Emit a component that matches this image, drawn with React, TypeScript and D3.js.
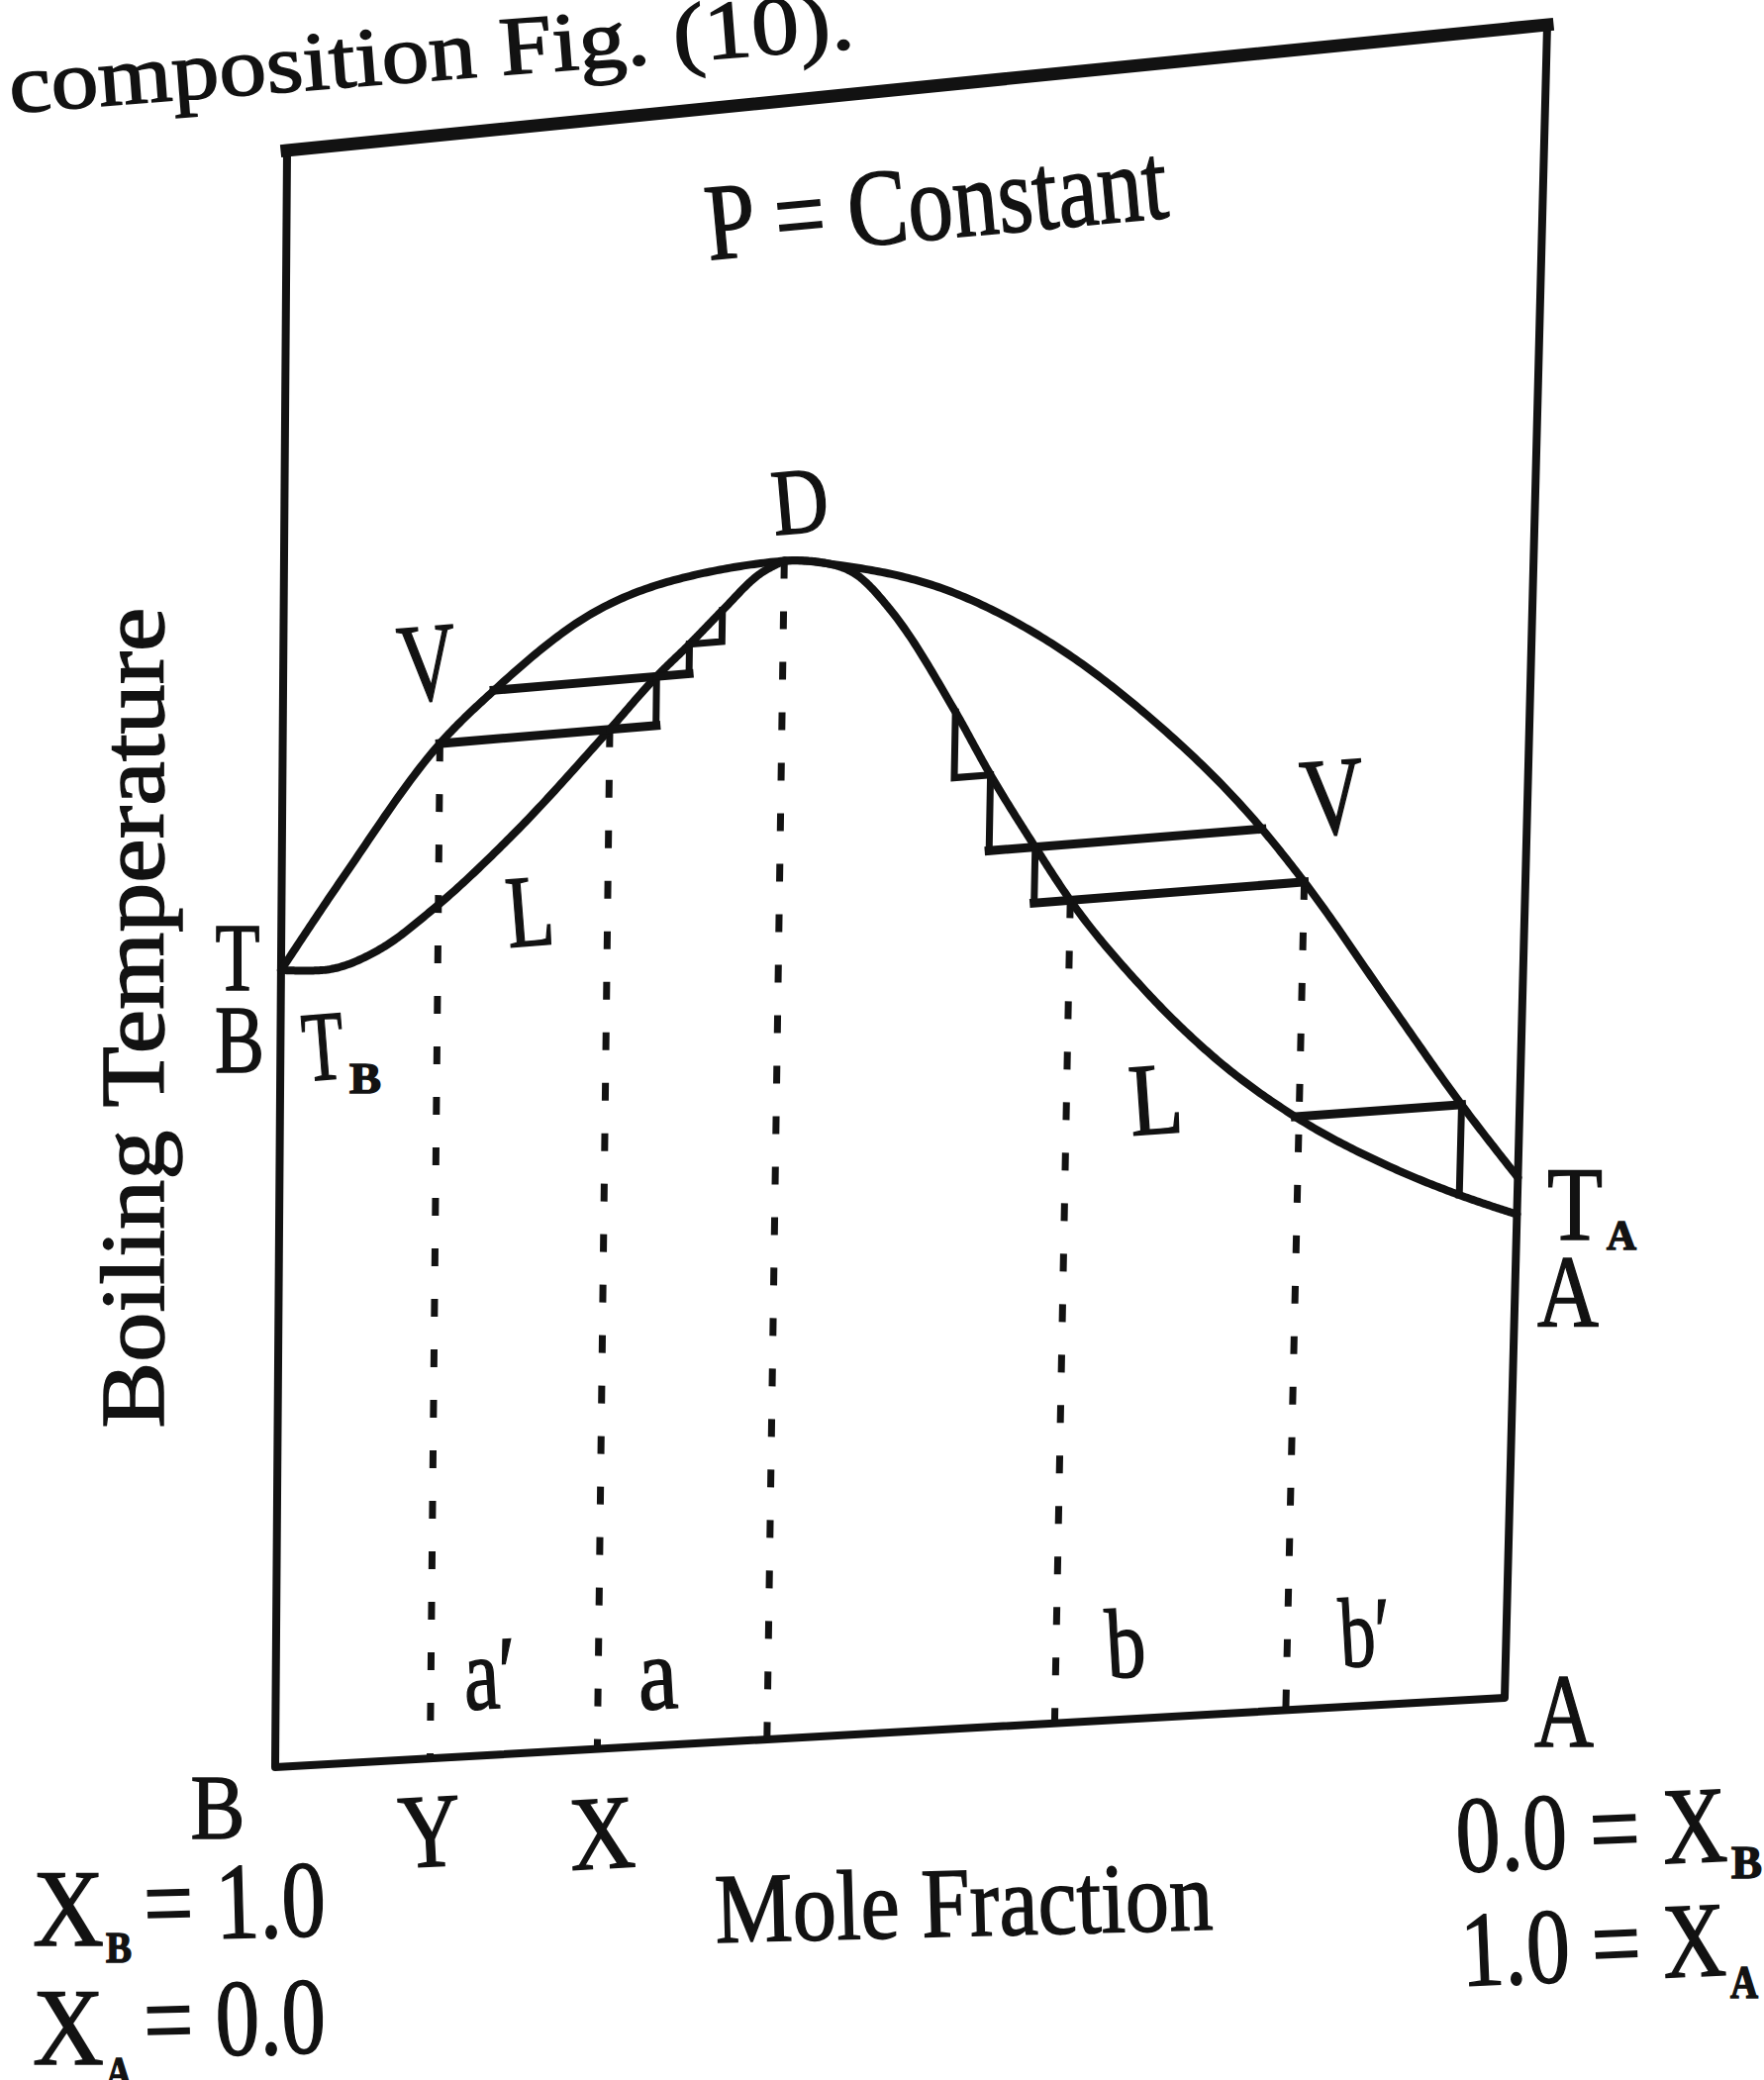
import React from "react";
import * as d3 from "d3";

// Boiling-point diagram of a maximum-boiling (negative deviation) binary mixture.
// x = mole fraction of A (0 = pure B, 1 = pure A); t = relative boiling temperature
// (0 = bottom of the frame, 1 = top of the frame).
type Pt = [number, number];

const vapourCurve: Pt[] = [
  [0, 0.493], [0.049, 0.547], [0.126, 0.625], [0.169, 0.655], [0.244, 0.696],
  [0.319, 0.714], [0.4, 0.719], [0.446, 0.713], [0.526, 0.694], [0.607, 0.659],
  [0.689, 0.609], [0.787, 0.532], [0.822, 0.498], [0.894, 0.42], [0.953, 0.357],
  [1, 0.311],
];

// liquid branch on the B-rich side, T_B up to the azeotrope D
const liquidCurveB: Pt[] = [
  [0, 0.493], [0.034, 0.491], [0.079, 0.501], [0.123, 0.524], [0.185, 0.565],
  [0.262, 0.625], [0.299, 0.655], [0.325, 0.673], [0.351, 0.692], [0.38, 0.712],
  [0.4, 0.719],
];

// liquid branch on the A-rich side, D down to T_A
const liquidCurveA: Pt[] = [
  [0.4, 0.719], [0.43, 0.716], [0.459, 0.706], [0.486, 0.683], [0.539, 0.618],
  [0.568, 0.578], [0.605, 0.532], [0.634, 0.498], [0.692, 0.443], [0.753, 0.396],
  [0.819, 0.357], [0.896, 0.323], [0.953, 0.303], [1, 0.289],
];

const azeotrope = { x: 0.4, t: 0.719 };

// horizontal tie lines (vapour composition, liquid composition, temperature)
const tieLinesB = [
  { t: 0.625, vapour: 0.126, liquid: 0.262 },
  { t: 0.655, vapour: 0.169, liquid: 0.299 },
];
const tieLinesA = [
  { t: 0.532, vapour: 0.787, liquid: 0.605 },
  { t: 0.498, vapour: 0.822, liquid: 0.634 },
  { t: 0.357, vapour: 0.953, liquid: 0.819 },
];

// successive fractionation steps along the liquid curves
const stepsB = { x: [0.262, 0.299, 0.325, 0.351], t: [0.625, 0.655, 0.673, 0.692] };
const stepsA = { x: [0.539, 0.568, 0.605, 0.634], t: [0.618, 0.578, 0.532, 0.498] };
// last step near T_A: from the vapour point straight down to the liquid curve
const finalDrop = { x: 0.953, from: 0.357, to: 0.303 };

// dotted composition lines dropped to the axis
const dropLines = [
  { name: "Y", x: 0.126, t: 0.625 },
  { name: "X", x: 0.262, t: 0.625 },
  { name: "D", x: azeotrope.x, t: azeotrope.t },
  { name: "b", x: 0.634, t: 0.498 },
  { name: "b'", x: 0.822, t: 0.498 },
];

// frame corners on the page (the printed figure is slightly out of square)
const FRAME = {
  bl: [278, 1785],
  br: [1520, 1715],
  tr: [1563, 25],
  tl: [290, 152],
};

const xScale = d3.scaleLinear().domain([0, 1]).range([0, 1]);
const tScale = d3.scaleLinear().domain([0, 1]).range([0, 1]);

function warp(u: number, v: number): Pt {
  const { bl, br, tr, tl } = FRAME;
  const a = (1 - u) * (1 - v);
  const b = u * (1 - v);
  const c = u * v;
  const d = (1 - u) * v;
  return [
    a * bl[0] + b * br[0] + c * tr[0] + d * tl[0],
    a * bl[1] + b * br[1] + c * tr[1] + d * tl[1],
  ];
}

const place = (x: number, t: number): Pt => warp(xScale(x), tScale(t));

// d3 curve rendered in frame space, flattened and pushed through the frame warp
function warpedCurve(points: Pt[], curve: d3.CurveFactory = d3.curveMonotoneX): string {
  const out = d3.path();
  let px = 0;
  let py = 0;
  const run = (fn: (s: number) => Pt, n: number) => {
    for (let i = 1; i <= n; i++) {
      const [u, v] = fn(i / n);
      const [X, Y] = warp(u, v);
      out.lineTo(X, Y);
    }
  };
  const ctx = {
    moveTo(x: number, y: number) {
      const [X, Y] = warp(x, y);
      out.moveTo(X, Y);
      px = x;
      py = y;
    },
    lineTo(x: number, y: number) {
      const x0 = px, y0 = py;
      run((s) => [x0 + (x - x0) * s, y0 + (y - y0) * s], 6);
      px = x;
      py = y;
    },
    bezierCurveTo(x1: number, y1: number, x2: number, y2: number, x: number, y: number) {
      const x0 = px, y0 = py;
      run((s) => {
        const m = 1 - s;
        return [
          m * m * m * x0 + 3 * m * m * s * x1 + 3 * m * s * s * x2 + s * s * s * x,
          m * m * m * y0 + 3 * m * m * s * y1 + 3 * m * s * s * y2 + s * s * s * y,
        ];
      }, 30);
      px = x;
      py = y;
    },
    closePath() {
      out.closePath();
    },
  };
  d3.line<Pt>()
    .x((d) => xScale(d[0]))
    .y((d) => tScale(d[1]))
    .curve(curve)
    .context(ctx as unknown as d3.Path)(points);
  return out.toString();
}

// polyline of straight frame-space segments (straight lines stay straight under the warp)
const polyline = (pts: Pt[]): string =>
  pts.map((p, i) => {
    const [X, Y] = place(p[0], p[1]);
    return `${i ? "L" : "M"}${X.toFixed(1)},${Y.toFixed(1)}`;
  }).join("");

const INK = "#121212";
const SERIF = "'Liberation Serif', 'Times New Roman', serif";

type LabelProps = {
  x: number;
  y: number;
  size: number;
  len: number;
  rot?: number;
  anchor?: "start" | "middle" | "end";
  bold?: boolean;
  children: React.ReactNode;
};

function Label({ x, y, size, len, rot = 0, anchor = "middle", bold = false, children }: LabelProps) {
  return (
    <text
      x={x}
      y={y}
      fontSize={size}
      textLength={len}
      lengthAdjust="spacingAndGlyphs"
      textAnchor={anchor}
      fontFamily={SERIF}
      fontWeight={bold ? 700 : 400}
      fill={INK}
      stroke={INK}
      strokeWidth={1.5}
      transform={rot ? `rotate(${rot} ${x} ${y})` : undefined}
    >
      {children}
    </text>
  );
}

export default function App() {
  const { bl, br, tr, tl } = FRAME;

  // staircase on the B-rich liquid branch: right, then up
  const stairB: Pt[][] = [];
  for (let i = 0; i < stepsB.x.length - 1; i++) {
    stairB.push([
      [stepsB.x[i], stepsB.t[i]],
      [stepsB.x[i + 1], stepsB.t[i]],
      [stepsB.x[i + 1], stepsB.t[i + 1]],
    ]);
  }
  // staircase on the A-rich liquid branch: down, then right
  const stairA: Pt[][] = [];
  for (let i = 0; i < stepsA.x.length - 1; i++) {
    stairA.push([
      [stepsA.x[i], stepsA.t[i]],
      [stepsA.x[i], stepsA.t[i + 1]],
      [stepsA.x[i + 1], stepsA.t[i + 1]],
    ]);
  }

  // tie lines run from the vapour curve to the corner of the next step
  const tiesB = tieLinesB.map((tie) => {
    const k = stepsB.t.indexOf(tie.t);
    const end = k >= 0 && k + 1 < stepsB.x.length ? stepsB.x[k + 1] : tie.liquid;
    return polyline([[tie.vapour, tie.t], [end, tie.t]]);
  });
  const tiesA = tieLinesA.map((tie) => {
    const k = stepsA.t.indexOf(tie.t);
    const start = k > 0 ? stepsA.x[k - 1] : tie.liquid;
    return polyline([[start, tie.t], [tie.vapour, tie.t]]);
  });

  return (
    <div style={{ position: "absolute", left: 0, top: 0 }}>
      <svg width={1782} height={2101} viewBox="0 0 1782 2101" style={{ display: "block" }}>
        <rect width={1782} height={2101} fill="#ffffff" />

        {/* running text of the page */}
        <Label x={11} y={114} size={84} len={856} anchor="start" rot={-4.4}>
          composition Fig. (10).
        </Label>

        {/* frame */}
        <g fill="none" stroke={INK} strokeLinejoin="round" strokeLinecap="square">
          <path d={`M${tl[0]},${tl[1]}L${bl[0]},${bl[1]}L${br[0]},${br[1]}L${tr[0]},${tr[1]}`} strokeWidth={8} />
          <path d={`M${tl[0]},${tl[1]}L${tr[0]},${tr[1]}`} strokeWidth={13} />
        </g>

        {/* dotted drop lines */}
        <g stroke={INK} strokeWidth={7} strokeDasharray="18 33" fill="none">
          {dropLines.map((d) => (
            <path key={d.name} d={polyline([[d.x, d.t], [d.x, 0]])} />
          ))}
        </g>

        {/* vapour and liquid curves */}
        <g fill="none" stroke={INK} strokeWidth={8} strokeLinejoin="round" strokeLinecap="round">
          <path d={warpedCurve(vapourCurve)} />
          <path d={warpedCurve(liquidCurveB)} />
          <path d={warpedCurve(liquidCurveA)} />
        </g>

        {/* tie lines */}
        <g fill="none" stroke={INK} strokeWidth={9} strokeLinecap="square">
          {tiesB.map((d, i) => <path key={`tb${i}`} d={d} />)}
          {tiesA.map((d, i) => <path key={`ta${i}`} d={d} />)}
        </g>

        {/* fractionation steps */}
        <g fill="none" stroke={INK} strokeWidth={7} strokeLinejoin="miter" strokeLinecap="square">
          {stairB.map((s, i) => <path key={`sb${i}`} d={polyline(s)} />)}
          {stairA.map((s, i) => <path key={`sa${i}`} d={polyline(s)} />)}
          <path d={polyline([[finalDrop.x, finalDrop.from], [finalDrop.x, finalDrop.to]])} />
        </g>

        {/* labels inside the frame */}
        <Label x={949} y={241} size={110} len={468} rot={-5.3}>P = Constant</Label>
        <Label x={811} y={538} size={95} len={57} rot={-5}>D</Label>
        <Label x={435} y={707} size={113} len={59} rot={-4.8}>V</Label>
        <Label x={538} y={955} size={104} len={48} rot={-4.5}>L</Label>
        <Label x={1349} y={842} size={112} len={64} rot={-4.3}>V</Label>
        <Label x={1170} y={1145} size={104} len={54} rot={-4}>L</Label>

        <Label x={308} y={1092} size={100} len={42} anchor="start" rot={-4.5}>T</Label>
        <Label x={353} y={1104} size={44} len={32} anchor="start" bold>B</Label>

        <Label x={470} y={1727} size={105} len={54} anchor="start" rot={-3.3}>a′</Label>
        <Label x={646} y={1727} size={105} len={40} anchor="start" rot={-3.3}>a</Label>
        <Label x={1119} y={1695} size={100} len={40} anchor="start" rot={-3.3}>b</Label>
        <Label x={1355} y={1684} size={100} len={52} anchor="start" rot={-3.3}>b′</Label>

        {/* left axis */}
        <Label x={165} y={1028} size={92} len={829} rot={-90}>Boiling Temperature</Label>
        <Label x={240} y={1000} size={98} len={45}>T</Label>
        <Label x={242} y={1083} size={97} len={50}>B</Label>

        {/* right axis */}
        <Label x={1563} y={1252} size={106} len={56} anchor="start">T</Label>
        <Label x={1623} y={1262} size={42} len={30} anchor="start" bold>A</Label>
        <Label x={1584} y={1340} size={104} len={62}>A</Label>
        <Label x={1580} y={1764} size={106} len={60}>A</Label>

        {/* composition axis */}
        <Label x={220} y={1857} size={94} len={55}>B</Label>
        <Label x={436} y={1885} size={106} len={63} rot={-3}>Y</Label>
        <Label x={610} y={1887} size={106} len={66} rot={-3}>X</Label>
        <Label x={723} y={1962} size={100} len={503} anchor="start" rot={-1.5}>Mole Fraction</Label>

        <Label x={33} y={1965} size={110} len={72} anchor="start">X</Label>
        <Label x={107} y={1982} size={44} len={26} anchor="start" bold>B</Label>
        <Label x={146} y={1960} size={110} len={184} anchor="start" rot={-1.5}>= 1.0</Label>

        <Label x={33} y={2085} size={110} len={72} anchor="start">X</Label>
        <Label x={107} y={2108} size={44} len={26} anchor="start" bold>A</Label>
        <Label x={146} y={2078} size={110} len={184} anchor="start" rot={-1.5}>= 0.0</Label>

        <Label x={1472} y={1891} size={110} len={274} anchor="start" rot={-2.4}>0.0 = X</Label>
        <Label x={1749} y={1897} size={46} len={31} anchor="start" bold>B</Label>
        <Label x={1477} y={2006} size={108} len={268} anchor="start" rot={-2.4}>1.0 = X</Label>
        <Label x={1748} y={2018} size={46} len={28} anchor="start" bold>A</Label>
      </svg>
    </div>
  );
}
